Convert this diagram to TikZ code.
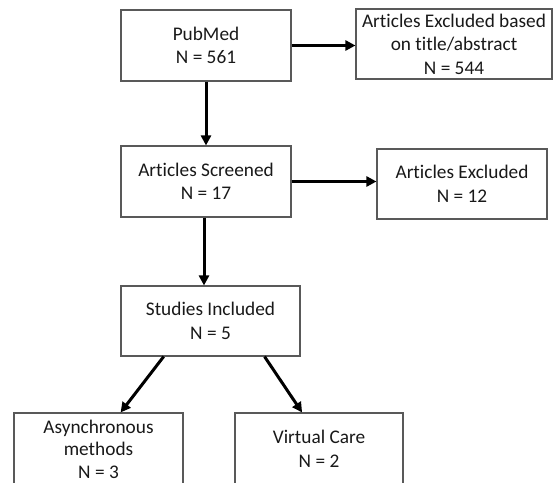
\documentclass[tikz,border=0pt]{standalone}
\usepackage{fontspec}
\setmainfont{Carlito}[Ligatures=NoCommon]
\usetikzlibrary{arrows.meta,calc}
\begin{document}
\begin{tikzpicture}[x=1pt,y=-1pt,
  box/.style={draw=black!65, line width=1.1pt, fill=white, align=center,
    inner sep=0pt, font=\fontsize{19.3}{23.5}\selectfont, text=black!90},
  conn/.style={line width=3pt, -{Triangle[length=10pt,width=10pt]}}]
\useasboundingbox (0,0) rectangle (553,482);
\clip (0,0) rectangle (553,482);
\node[box, minimum width=170pt, minimum height=71pt] (pub) at (206,45.5) {PubMed\\N = 561};
\node[box, minimum width=196pt, minimum height=70pt] (exa) at (454,44) {Articles Excluded based\\on title/abstract\\N = 544};
\node[box, minimum width=170pt, minimum height=71pt] (scr) at (206,181.5) {Articles Screened\\N = 17};
\node[box, minimum width=170pt, minimum height=70pt] (exb) at (462,184) {Articles Excluded\\N = 12};
\node[box, minimum width=179pt, minimum height=70pt] (stu) at (210.5,321) {Studies Included\\N = 5};
\node[box, minimum width=169pt, minimum height=72pt, font=\fontsize{19.3}{22.5}\selectfont] (asy) at (98.5,449) {Asynchronous\\methods\\N = 3};
\node[box, minimum width=168pt, minimum height=72pt] (vir) at (319,449) {Virtual Care\\N = 2};
\draw[conn] (pub.east) -- (pub.east -| exa.west);
\draw[conn] (pub.south) -- (scr.north);
\draw[conn] (scr.east) -- (scr.east -| exb.west);
\draw[conn] ([xshift=-2pt]scr.south) -- ([xshift=-2pt]scr.south |- stu.north);
\draw[conn] ($(stu.south west)!0.24!(stu.south east)$) -- ($(asy.north west)!0.63!(asy.north east)$);
\draw[conn] ($(stu.south west)!0.80!(stu.south east)$) -- ($(vir.north west)!0.40!(vir.north east)$);
\end{tikzpicture}
\end{document}
